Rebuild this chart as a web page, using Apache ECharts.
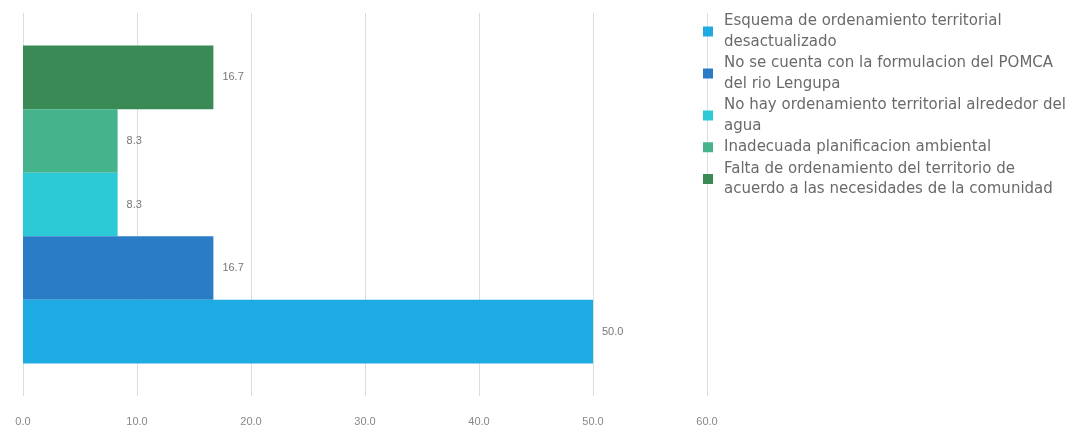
<!DOCTYPE html>
<html>
<head>
<meta charset="utf-8">
<script src="https://cdn.jsdelivr.net/npm/echarts@6/dist/echarts.min.js"></script>
<style>
html,body{margin:0;padding:0;background:#fff;}
#c{width:1079px;height:428px;}
</style>
</head>
<body>
<div id="c"></div>
<script>
const categories = [''];
const seriesNames = [
  'Esquema de ordenamiento territorial\ndesactualizado',
  'No se cuenta con la formulacion del POMCA\ndel rio Lengupa',
  'No hay ordenamiento territorial alrededor del\nagua',
  'Inadecuada planificacion ambiental',
  'Falta de ordenamiento del territorio de\nacuerdo a las necesidades de la comunidad'
];
const seriesValues = [50.0, 16.7, 8.3, 8.3, 16.7];
const seriesColors = ['#1eaae2', '#2a7cc6', '#2cc9d6', '#45b38c', '#3a8a55'];
const xTicks = [0, 10, 20, 30, 40, 50, 60];

const chart = echarts.init(document.getElementById('c'));
// Built in reverse so the first legend entry is drawn at the bottom
const series = seriesNames.map((n, i) => ({
  name: n,
  type: 'bar',
  data: [seriesValues[i]],
  barGap: '0%',
  barCategoryGap: '17%',
  itemStyle: { color: seriesColors[i] },
  label: {
    show: true,
    position: 'right',
    distance: 9,
    color: '#777',
    fontSize: 11,
    fontFamily: 'Liberation Sans, Arial, sans-serif',
    formatter: p => p.value.toFixed(1)
  }
})).reverse();
chart.setOption({
  animation: false,
  grid: { left: 23, right: 372, top: 13, bottom: 32, containLabel: false },
  xAxis: {
    type: 'value',
    min: xTicks[0],
    max: xTicks[xTicks.length - 1],
    interval: 10,
    axisLine: { show: false },
    axisTick: { show: false },
    splitLine: { show: true, lineStyle: { color: '#dddddd', width: 1 } },
    axisLabel: {
      color: '#888',
      fontSize: 11,
      margin: 20,
      fontFamily: 'Liberation Sans, Arial, sans-serif',
      formatter: v => v.toFixed(1)
    }
  },
  yAxis: {
    type: 'category',
    data: categories,
    axisLine: { show: false },
    axisTick: { show: false },
    axisLabel: { show: false }
  },
  legend: {
    orient: 'vertical',
    left: 698,
    top: 6,
    itemWidth: 10,
    itemHeight: 10,
    itemGap: 1,
    icon: 'rect',
    data: seriesNames,
    textStyle: {
      color: '#6a6a6a',
      fontSize: 15,
      lineHeight: 20.5,
      fontFamily: 'DejaVu Sans, sans-serif',
      padding: [0, 0, 0, 6]
    }
  },
  series: series
});
</script>
</body>
</html>
